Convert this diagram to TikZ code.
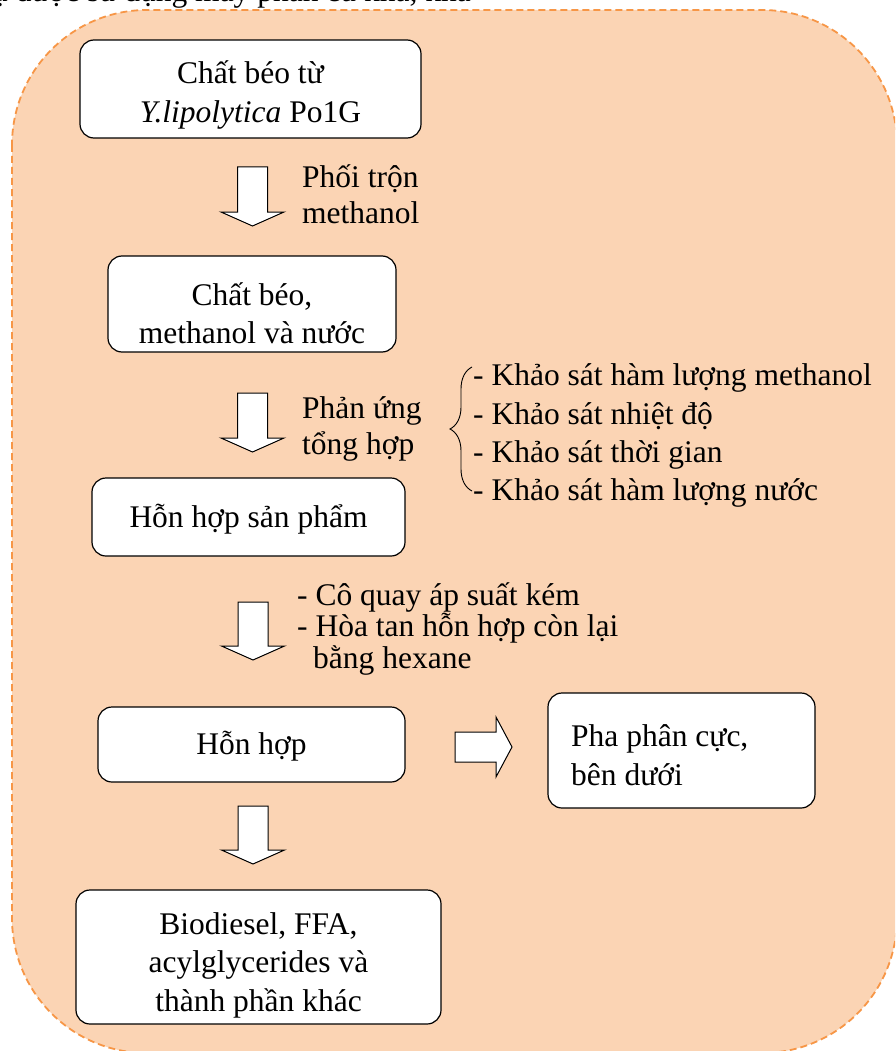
\documentclass[tikz,border=0pt]{standalone}
\usepackage{fontspec}
\setmainfont{Liberation Serif}
\usetikzlibrary{decorations.pathreplacing}
\definecolor{peach}{RGB}{251,212,180}
\definecolor{frameorange}{RGB}{247,150,70}
\tikzset{
  frame/.style={draw=frameorange, fill=peach, line width=1.8pt, dash pattern=on 7pt off 4pt, rounded corners=135pt},
  box/.style={draw=black, fill=white, line width=1.2pt, rounded corners=14pt, inner sep=0pt},
  boxtxt/.style={align=center, inner sep=0pt, font=\fontsize{31.5}{38.5}\selectfont},
  barrow/.style={draw=black, fill=white, line width=1pt, line join=miter},
  txt/.style={anchor=base west, inner sep=0pt, font=\fontsize{31.5}{37}\selectfont},
  bracestyle/.style={draw=black, line width=0.9pt, decorate, decoration={brace, amplitude=22pt, aspect=0.5}}
}
\newcommand{\bdown}[4]{% name, x, top, tip
  \coordinate (#1) at (#2,#3);
  \draw[barrow] (#2-15,#3) -- (#2+15,#3) -- (#2+15,#4-14) -- (#2+31.5,#4-14) -- (#2,#4) -- (#2-31.5,#4-14) -- (#2-15,#4-14) -- cycle;}
\begin{document}
\begin{tikzpicture}[x=1pt,y=-1pt]
\useasboundingbox (0,0) rectangle (895,1051);
\clip (0,0) rectangle (895,1051);
\fill[white] (0,0) rectangle (895,1051);
% partially visible line of text above the frame
\node[txt] (toptext) at (-8,2) {ụ được sử dụng máy phân cũ khá, khá};
% background frame
\draw[frame] (12,10) rectangle (897,1053);
% boxes
\node[box, minimum width=341pt, minimum height=98pt] (b1) at (250.5,89) {};
\node[boxtxt] (t1) at ([yshift=-6pt]b1.center) {Chất béo từ\\\textit{Y.lipolytica} Po1G};
\node[box, minimum width=288pt, minimum height=96pt] (b2) at (252,304) {};
\node[boxtxt] (t2) at ([yshift=-9pt]b2.center) {Chất béo,\\methanol và nước};
\node[box, minimum width=313pt, minimum height=78pt] (b3) at (248.5,517) {};
\node[boxtxt] (t3) at ([yshift=-2pt]b3.center) {Hỗn hợp sản phẩm};
\node[box, minimum width=307pt, minimum height=75pt] (b4) at (251.5,744.5) {};
\node[boxtxt] (t4) at ([yshift=-2pt]b4.center) {Hỗn hợp};
\node[box, minimum width=267pt, minimum height=115pt] (b5) at (681.5,750.5) {};
\node[txt] (b5a) at (571,746) {Pha phân cực,};
\node[txt] (b5b) at (571,785) {bên dưới};
\node[box, minimum width=365pt, minimum height=134pt] (b6) at (258.5,957) {};
\node[boxtxt] (t6) at ([yshift=-8pt]b6.center) {Biodiesel, FFA,\\acylglycerides và\\thành phần khác};
% block arrows
\bdown{a1}{252.5}{167}{226}
\bdown{a2}{252.5}{393}{452}
\bdown{a3}{253}{602}{660}
\bdown{a4}{253}{806}{864}
\draw[barrow] (455,732) -- (496,732) -- (496,717) -- (512,747) -- (496,777) -- (496,762) -- (455,762) -- cycle;
% labels
\node[txt] (l1a) at (302,187) {Phối trộn};
\node[txt] (l1b) at (302,223) {methanol};
\node[txt] (l2a) at (302,418) {Phản ứng};
\node[txt] (l2b) at (302,454) {tổng hợp};
% brace and list
\coordinate (brtop) at (472,367);
\coordinate (brbot) at (472,491);
\draw[bracestyle] (brbot) -- (brtop);
\node[txt] (s1) at (473,385) {- Khảo sát hàm lượng methanol};
\node[txt] (s2) at (473,424) {- Khảo sát nhiệt độ};
\node[txt] (s3) at (473,462) {- Khảo sát thời gian};
\node[txt] (s4) at (473,500) {- Khảo sát hàm lượng nước};
% second list
\node[txt] (c1) at (297,605) {- Cô quay áp suất kém};
\node[txt] (c2) at (297,636) {- Hòa tan hỗn hợp còn lại};
\node[txt] (c3) at (313,668) {bằng hexane};
\end{tikzpicture}
\end{document}
